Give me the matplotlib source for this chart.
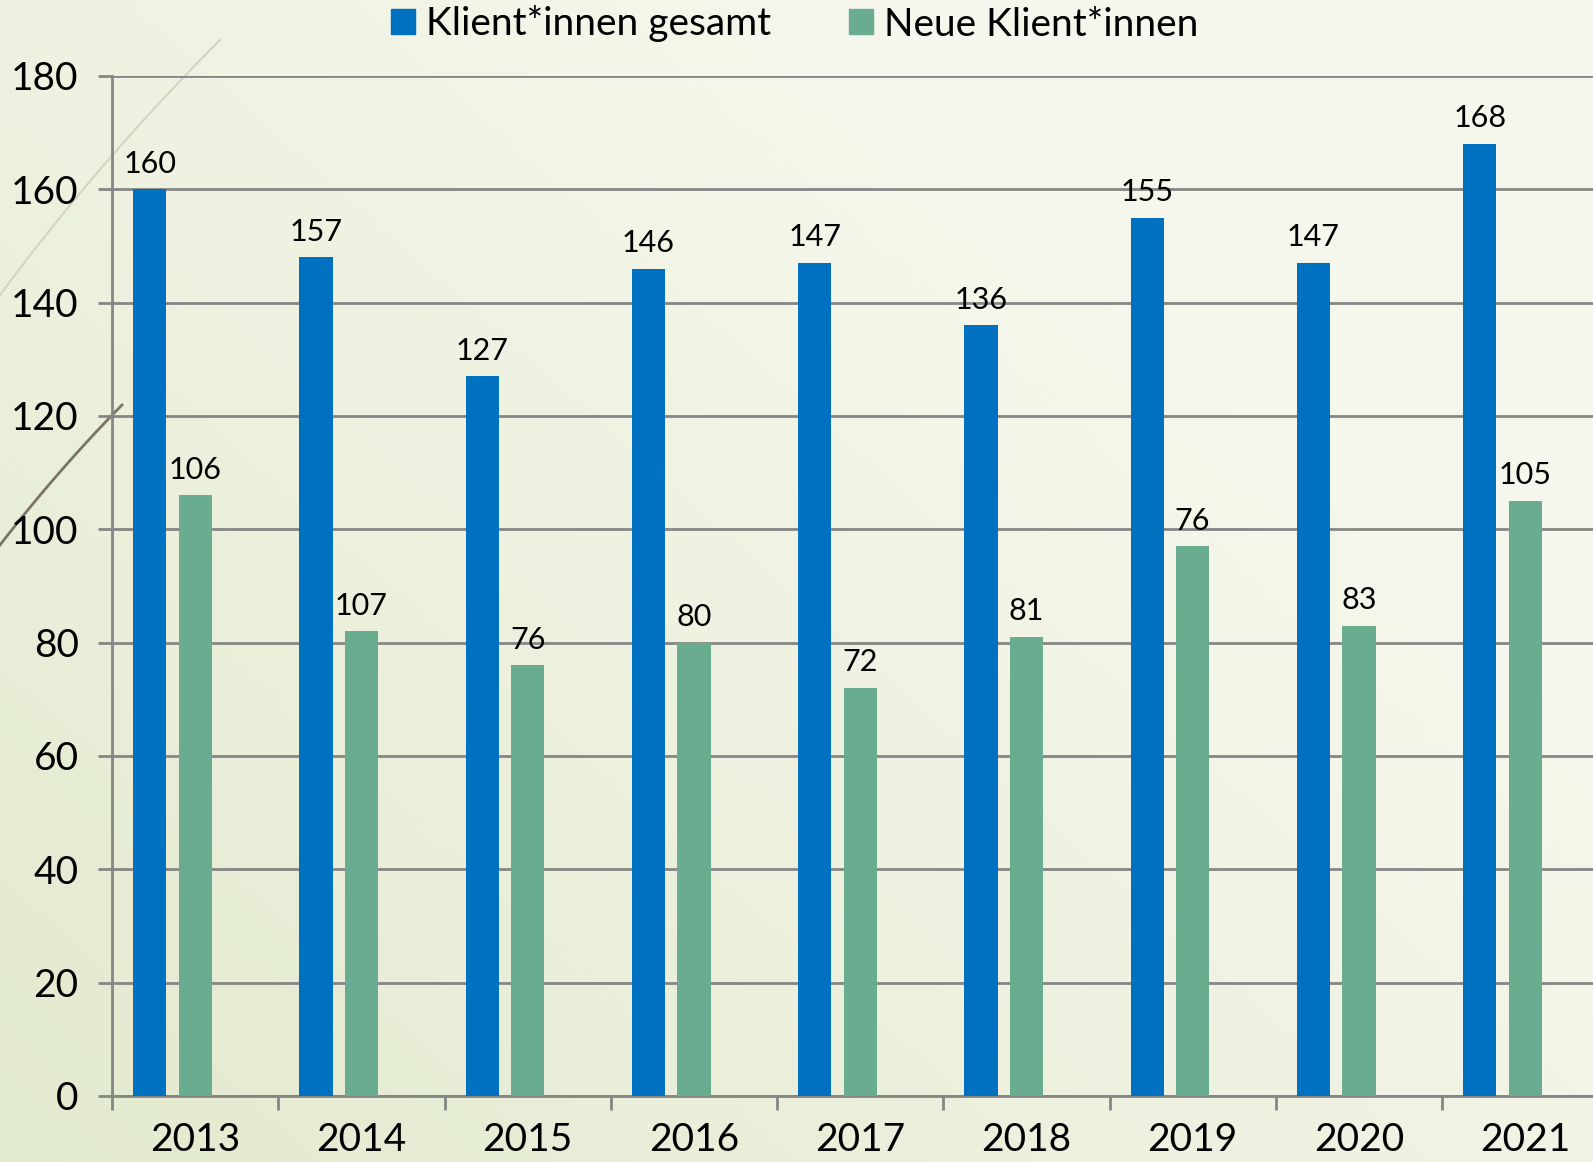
import numpy as np
import matplotlib
matplotlib.use("Agg")
import matplotlib.pyplot as plt
from matplotlib.lines import Line2D
from matplotlib.patches import Patch

plt.rcParams['font.family'] = ['Lato', 'DejaVu Sans']

years = ["2013", "2014", "2015", "2016", "2017", "2018", "2019", "2020", "2021"]
gesamt_heights = [160, 148, 127, 146, 147, 136, 155, 147, 168]
gesamt_labels = ["160", "157", "127", "146", "147", "136", "155", "147", "168"]
neue_heights = [106, 82, 76, 80, 72, 81, 97, 83, 105]
neue_labels = ["106", "107", "76", "80", "72", "81", "76", "83", "105"]
series_names = ["Klient*innen gesamt", "Neue Klient*innen"]
yticks = [0, 20, 40, 60, 80, 100, 120, 140, 160, 180]

blue = "#0070C0"
green = "#6AAC90"
grid_c = "#868686"

W, H = 1593, 1162
fig = plt.figure(figsize=(W / 100, H / 100), dpi=100)

# background gradient
bg = fig.add_axes([0, 0, 1, 1], zorder=-10)
yy, xx = np.mgrid[0:1:200j, 0:1:300j]
t = np.clip(0.55 * xx + 0.45 * yy, 0, 1)
t = np.clip(t * 1.4, 0, 1)
c0 = np.array([226, 234, 206]) / 255.0
c1 = np.array([246, 247, 236]) / 255.0
img = c0[None, None, :] * (1 - t[..., None]) + c1[None, None, :] * t[..., None]
bg.imshow(img, extent=[0, 1, 0, 1], origin="lower", aspect="auto")
bg.set_xlim(0, 1)
bg.set_ylim(0, 1)
bg.axis("off")


def bez(p0, p1, p2, n=50):
    s = np.linspace(0, 1, n)[:, None]
    p0, p1, p2 = map(np.array, (p0, p1, p2))
    pts = (1 - s) ** 2 * p0 + 2 * (1 - s) * s * p1 + s ** 2 * p2
    return pts[:, 0] / W, 1 - pts[:, 1] / H


xs, ys = bez((0, 295), (100, 160), (220, 40))
bg.add_line(Line2D(xs, ys, color="#d6d4bf", lw=1.5))
xs, ys = bez((0, 545), (58, 470), (122, 405))
bg.add_line(Line2D(xs, ys, color="#7a7560", lw=2))

left = 112 / W
width = 9 * 166.25 / W
bottom = (H - 1096) / H
height = 1020 / H
ax = fig.add_axes([left, bottom, width, height])
ax.patch.set_alpha(0)

x = np.arange(len(years))
bw = 0.2
b1 = ax.bar(x - 0.273, gesamt_heights, bw, color=blue, zorder=3, label=series_names[0])
b2 = ax.bar(x + 0.0, neue_heights, bw, color=green, zorder=3, label=series_names[1])

for rect, lab in zip(b1, gesamt_labels):
    ax.annotate(lab, (rect.get_x() + rect.get_width() / 2, rect.get_height()),
                xytext=(0, 12), textcoords="offset points", ha="center", va="baseline",
                fontsize=22, color="black")
for rect, lab in zip(b2, neue_labels):
    ax.annotate(lab, (rect.get_x() + rect.get_width() / 2, rect.get_height()),
                xytext=(0, 12), textcoords="offset points", ha="center", va="baseline",
                fontsize=22, color="black")

ax.set_xlim(-0.5, len(years) - 0.5)
ax.set_ylim(0, 180)
ax.set_yticks(yticks)
ax.set_yticklabels([str(v) for v in yticks], fontsize=28)
ax.set_xticks(np.arange(len(years) + 1) - 0.5, minor=False)
ax.set_xticklabels([])
ax.set_xticks(x, minor=True)
ax.set_xticklabels(years, minor=True, fontsize=28)
ax.tick_params(axis="x", which="major", length=10, width=2, color=grid_c, direction="out")
ax.tick_params(axis="x", which="minor", length=0, pad=19)
ax.tick_params(axis="y", length=10, width=2, color=grid_c, pad=14)
ax.grid(axis="y", color=grid_c, lw=2, zorder=0)
for s in ["top", "right"]:
    ax.spines[s].set_visible(False)
for s in ["left", "bottom"]:
    ax.spines[s].set_color(grid_c)
    ax.spines[s].set_linewidth(2)

handles = [Patch(color=blue), Patch(color=green)]
fig.legend(handles, series_names, loc="center", bbox_to_anchor=(795 / W, 1 - 24 / H),
           ncol=2, frameon=False, fontsize=28, handlelength=0.6, handleheight=0.6,
           handletextpad=0.3, columnspacing=2.0)

fig.savefig("out.png", dpi=100)
